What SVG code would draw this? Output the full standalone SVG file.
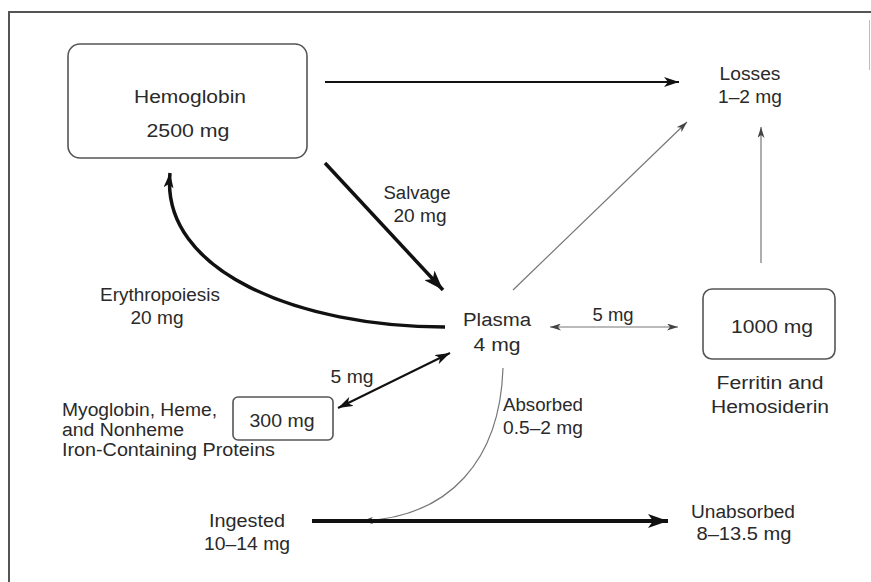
<svg xmlns="http://www.w3.org/2000/svg" width="871" height="582" viewBox="0 0 871 582">
<defs>
<style>
.t{font-family:"Liberation Sans",Arial,sans-serif;font-size:18px;fill:#2a2a2a;text-anchor:middle}
.tl{font-family:"Liberation Sans",Arial,sans-serif;font-size:18px;fill:#2a2a2a;text-anchor:start}
.box{fill:#fff;stroke:#555;stroke-width:1.6}
.thick{fill:none;stroke:#111;stroke-linecap:butt}
.thin{fill:none;stroke:#777;stroke-width:1.2}
</style>
<marker id="aBig" markerUnits="userSpaceOnUse" viewBox="0 0 20 14" markerWidth="20" markerHeight="14" refX="20" refY="7" orient="auto"><path d="M0,0 L20,7 L0,14 L5,7 z" fill="#111"/></marker>
<marker id="aMed" markerUnits="userSpaceOnUse" viewBox="0 0 15 10" markerWidth="15" markerHeight="10" refX="15" refY="5" orient="auto-start-reverse"><path d="M0,0 L15,5 L0,10 L4,5 z" fill="#111"/></marker>
<marker id="aThin" markerUnits="userSpaceOnUse" viewBox="0 0 11 7" markerWidth="11" markerHeight="7" refX="11" refY="3.5" orient="auto-start-reverse"><path d="M0,0 L11,3.5 L0,7 L3,3.5 z" fill="#444"/></marker>
</defs>
<rect x="0" y="0" width="871" height="582" fill="#fff"/>
<g id="frame">
<polyline points="9,582 9,12 871,12" fill="none" stroke="#555" stroke-width="2"/>
<line x1="869.5" y1="20" x2="869.5" y2="70" stroke="#bbb" stroke-width="1"/>
</g>
<g id="connectors">
<line class="thick" x1="325" y1="82" x2="679" y2="82" stroke-width="2" marker-end="url(#aMed)"/>
<line class="thick" x1="325" y1="163" x2="443" y2="290" stroke-width="3.5" marker-end="url(#aBig)"/>
<path class="thick" d="M445,327 C300,327 160,272 170,173" stroke-width="3.5" marker-end="url(#aMed)"/>
<line class="thin" x1="513" y1="290" x2="687" y2="122" marker-end="url(#aThin)"/>
<line class="thin" x1="761" y1="263" x2="761" y2="127" marker-end="url(#aThin)"/>
<line class="thin" x1="550" y1="327" x2="678" y2="327" marker-start="url(#aThin)" marker-end="url(#aThin)"/>
<line class="thick" x1="338" y1="408" x2="450" y2="353" stroke-width="2" marker-start="url(#aMed)" marker-end="url(#aMed)"/>
<path class="thin" d="M503,368 C500,460 450,517 362,521" marker-end="url(#aThin)"/>
<line class="thick" x1="312" y1="521" x2="668" y2="521" stroke-width="4" marker-end="url(#aBig)"/>
</g>
<g id="hemoglobin">
<rect class="box" x="68" y="44" width="239" height="114" rx="12"/>
<text class="t" x="190" y="103" textLength="112" lengthAdjust="spacingAndGlyphs">Hemoglobin</text>
<text class="t" x="188" y="137" textLength="83" lengthAdjust="spacingAndGlyphs">2500 mg</text>
</g>
<g id="losses">
<text class="t" x="750" y="80" textLength="61" lengthAdjust="spacingAndGlyphs">Losses</text>
<text class="t" x="750" y="103" textLength="64" lengthAdjust="spacingAndGlyphs">1–2 mg</text>
</g>
<g id="salvage">
<text class="t" x="417" y="199" textLength="67" lengthAdjust="spacingAndGlyphs">Salvage</text>
<text class="t" x="420" y="222" textLength="53" lengthAdjust="spacingAndGlyphs">20 mg</text>
</g>
<g id="erythropoiesis">
<text class="t" x="160" y="301" textLength="120" lengthAdjust="spacingAndGlyphs">Erythropoiesis</text>
<text class="t" x="157" y="324" textLength="53" lengthAdjust="spacingAndGlyphs">20 mg</text>
</g>
<g id="plasma">
<text class="t" x="497" y="326" textLength="68" lengthAdjust="spacingAndGlyphs">Plasma</text>
<text class="t" x="497" y="351" textLength="47" lengthAdjust="spacingAndGlyphs">4 mg</text>
</g>
<g id="ferritin-flow">
<text class="t" x="613" y="321" textLength="41" lengthAdjust="spacingAndGlyphs">5 mg</text>
</g>
<g id="ferritin">
<rect class="box" x="703" y="289" width="132" height="70" rx="9"/>
<text class="t" x="772" y="333" textLength="82" lengthAdjust="spacingAndGlyphs">1000 mg</text>
<text class="t" x="770" y="389" textLength="107" lengthAdjust="spacingAndGlyphs">Ferritin and</text>
<text class="t" x="770" y="413" textLength="118" lengthAdjust="spacingAndGlyphs">Hemosiderin</text>
</g>
<g id="myoglobin-flow">
<text class="t" x="352" y="383" textLength="43" lengthAdjust="spacingAndGlyphs">5 mg</text>
</g>
<g id="myoglobin">
<rect class="box" x="233" y="397" width="100" height="43" rx="5"/>
<text class="t" x="282" y="427" textLength="65" lengthAdjust="spacingAndGlyphs">300 mg</text>
<text class="tl" x="62" y="416" textLength="155" lengthAdjust="spacingAndGlyphs">Myoglobin, Heme,</text>
<text class="tl" x="62" y="436" textLength="122" lengthAdjust="spacingAndGlyphs">and Nonheme</text>
<text class="tl" x="62" y="456" textLength="213" lengthAdjust="spacingAndGlyphs">Iron-Containing Proteins</text>
</g>
<g id="absorbed">
<text class="t" x="543" y="411" textLength="80" lengthAdjust="spacingAndGlyphs">Absorbed</text>
<text class="t" x="543" y="434" textLength="80" lengthAdjust="spacingAndGlyphs">0.5–2 mg</text>
</g>
<g id="ingested">
<text class="t" x="247" y="527" textLength="76" lengthAdjust="spacingAndGlyphs">Ingested</text>
<text class="t" x="247" y="550" textLength="86" lengthAdjust="spacingAndGlyphs">10–14 mg</text>
</g>
<g id="unabsorbed">
<text class="t" x="743" y="518" textLength="104" lengthAdjust="spacingAndGlyphs">Unabsorbed</text>
<text class="t" x="744" y="540" textLength="95" lengthAdjust="spacingAndGlyphs">8–13.5 mg</text>
</g>
</svg>
